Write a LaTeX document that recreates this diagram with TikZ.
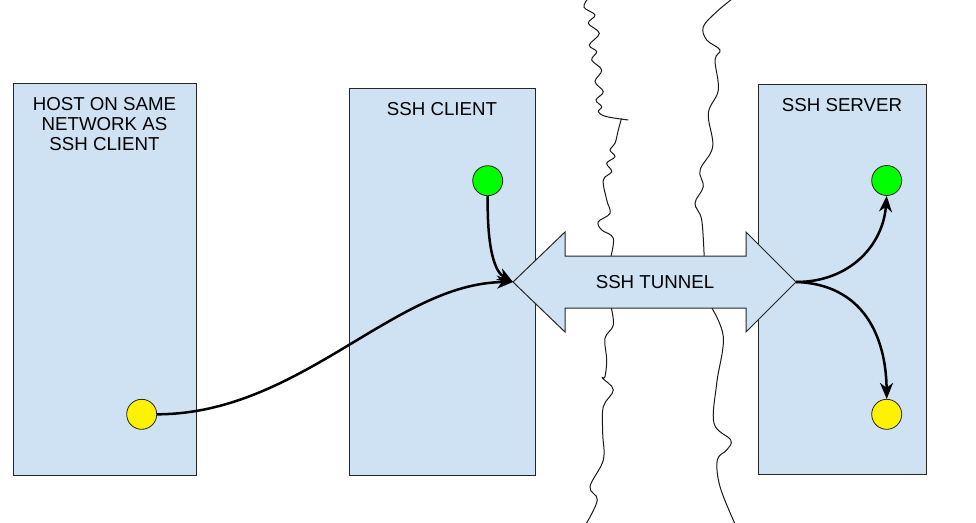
\documentclass[tikz,border=0pt]{standalone}
\usepackage{fontspec}
\setmainfont{Liberation Sans}
\usetikzlibrary{arrows.meta}
\definecolor{boxblue}{HTML}{CFE2F3}
\begin{document}
\begin{tikzpicture}[x=1pt,y=-1pt,
  hostbox/.style={draw=black!85, line width=1pt, fill=boxblue},
  lbl/.style={font=\fontsize{18.7}{20}\selectfont, align=center, inner sep=0pt},
  dot/.style={circle, draw=black!85, line width=0.8pt, minimum size=30pt, inner sep=0pt},
  link/.style={line width=2.5pt, -{Stealth[length=16pt,width=13pt,inset=5pt]}},
  crack/.style={line width=1pt, black!90},
]
\useasboundingbox (0,0) rectangle (976,522);

% cracks (network boundaries)
\draw[crack] plot[smooth, tension=0.6] coordinates {
 (588.3,-2) (584,7.3) (595,15) (588.3,23.3) (599.3,33.3) (589.3,45) (596.7,51.7)
 (591.7,60) (601.7,70) (595,81.7) (603.3,91.7) (596,100) (601.7,106.7)
 (598.3,111.7) (606,116.5) (628.3,120)};
\draw[crack] plot[smooth, tension=0.6] coordinates {
 (621.5,118.5) (618.3,130) (615,143.3) (610,150) (615,156.7) (606.7,163.3)
 (611.7,171.7) (603.3,180) (606.7,200) (610,213.3) (598.3,221.7) (601.7,230)
 (613.3,238.3) (610,260)};
\draw[crack] plot[smooth, tension=0.6] coordinates {
 (610.7,305) (613.3,325) (605,338.3) (606.7,360) (605,376.7) (602.7,378.3)
 (613.3,390) (603.3,406.7) (602.7,433.3) (603.3,460) (590,486.7) (597.3,500)
 (586,524)};
\draw[crack] plot[smooth, tension=0.6] coordinates {
 (733.3,-2) (716.7,11.7) (703.3,26.7) (706.7,40) (720,50) (715,60) (718.3,90)
 (708.3,113.3) (712.7,146.7) (700,170) (703.3,186.7) (695,203.3) (701.7,220)
 (704.3,260)};
\draw[crack] plot[smooth, tension=0.6] coordinates {
 (710,305) (723.3,336.7) (716.7,383.3) (714,423.3) (730.7,440) (726.7,450)
 (717.3,460) (720,486.7) (735,524)};

% boxes
\node[hostbox, minimum width=183pt, minimum height=392pt, anchor=north west] (host) at (13,83) {};
\node[hostbox, minimum width=186pt, minimum height=387pt, anchor=north west] (client) at (349,88) {};
\node[hostbox, minimum width=168pt, minimum height=390pt, anchor=north west] (server) at (758,84) {};

\node[lbl] (hostlbl) at (104.5,124) {HOST ON SAME\\NETWORK AS\\SSH CLIENT};
\node[lbl] (clientlbl) at (442,109) {SSH CLIENT};
\node[lbl] (serverlbl) at (842,105) {SSH SERVER};

% tunnel
\draw[hostbox] (513,282) -- (565,232) -- (565,256) -- (746,256) -- (746,232)
  -- (796,282) -- (746,332) -- (746,308) -- (565,308) -- (565,332) -- cycle;
\coordinate (tipL) at (513,282);
\coordinate (tipR) at (796,282);
\node[lbl] (tunnel) at (655,282) {SSH TUNNEL};

% endpoints
\node[dot, fill=green] (cg) at (487.7,180.7) {};
\node[dot, fill=yellow] (hy) at (141.7,414.3) {};
\node[dot, fill=green] (sg) at (886.7,180.5) {};
\node[dot, fill=yellow] (sy) at (886.7,414.3) {};

% connections
\draw[link] (hy.east) .. controls (300,414) and (395,283) .. (tipL);
\draw[link] (cg.south) .. controls (487,250) and (495,272) .. (tipL);
\draw[link] (tipR) .. controls (850,282) and (883,245) .. (sg.south);
\draw[link] (tipR) .. controls (862,284) and (886,335) .. (sy.north);
\end{tikzpicture}
\end{document}
